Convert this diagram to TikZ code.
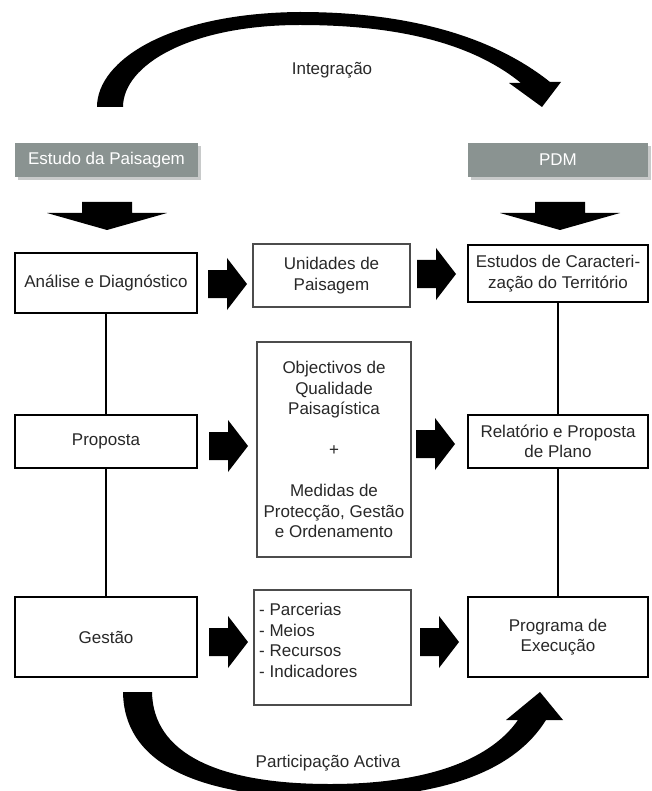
\documentclass[tikz,border=0pt]{standalone}
\usepackage{fontspec}
\setmainfont{Liberation Sans}
\definecolor{hdr}{RGB}{138,147,145}
\definecolor{txt}{RGB}{40,40,40}
\definecolor{shad}{RGB}{200,202,202}
\tikzset{
  base/.style={font=\fontsize{17}{20.5}\selectfont, text=txt, align=center, inner sep=0pt},
  outerbox/.style={base, draw=black, line width=2.4pt, fill=white},
  innerbox/.style={base, draw=black!70, line width=1.2pt, fill=white},
  hdrbox/.style={base, fill=hdr, text=white, minimum height=34pt},
  conn/.style={line width=2pt, black},
  rblock/.pic={\fill[black] (0,-14) -- (19,-14) -- (19,-26) -- (39,0) -- (19,26) -- (19,14) -- (0,14) -- cycle;},
  dblock/.pic={\fill[black] (-25,0) -- (25,0) -- (25,11) -- (60,11) -- (0,28) -- (-60,11) -- (-25,11) -- cycle;}
}
\begin{document}
\begin{tikzpicture}[x=1pt,y=-1pt]
\useasboundingbox[fill=white] (0,0) rectangle (651,791);

% top arc "Integracao"
\fill[black] (97,107) .. controls (97,60) and (170,13) .. (300,12)
  .. controls (420,12) and (500,42) .. (550,82)
  -- (561,82) -- (542,107) -- (509,83) -- (521,83)
  .. controls (478,48) and (410,25) .. (300,25)
  .. controls (190,25) and (123,65) .. (123,107) -- cycle;
\node[base] (integ) at (332,70) {Integração};

% headers
\fill[shad] (18,146) rectangle (201,180);
\fill[shad] (471,146) rectangle (651,180);
\node[hdrbox, minimum width=183pt] (hl) at (106.5,160) {Estudo da Paisagem};
\node[hdrbox, minimum width=180pt] (hr) at (558,160) {PDM};

% down block arrows
\pic at (107,202) {dblock};
\pic at (560,202) {dblock};

% row 1
\node[outerbox, minimum width=182pt, minimum height=60pt] (ana) at (106,283) {Análise e Diagnóstico};
\node[innerbox, minimum width=157pt, minimum height=63pt] (uni) at (331.5,275.5) {Unidades de\\Paisagem};
\node[outerbox, minimum width=180pt, minimum height=57pt] (est) at (558,273.5) {Estudos de Caracteri-\\zação do Território};

% row 2
\node[outerbox, minimum width=182pt, minimum height=53pt] (pro) at (106,441.5) {Proposta};
\node[innerbox, minimum width=154pt, minimum height=215pt] (obj) at (334,449.5)
  {Objectivos de\\Qualidade\\Paisagística\\[20.5pt]+\\[20.5pt]Medidas de\\Protecção, Gestão\\e Ordenamento};
\node[outerbox, minimum width=180pt, minimum height=53pt] (rel) at (558,441.5) {Relatório e Proposta\\de Plano};

% row 3
\node[outerbox, minimum width=182pt, minimum height=80pt] (ges) at (106,637) {Gestão};
\node[innerbox, minimum width=157pt, minimum height=115pt] (lst) at (332.5,647.5) {};
\node[base, align=left, anchor=north west] (lsttxt) at (259,603)
  {- Parcerias\\- Meios\\- Recursos\\- Indicadores};
\node[outerbox, minimum width=180pt, minimum height=80pt] (prg) at (558,637) {Programa de\\Execução};

% vertical connectors
\draw[conn] (ana.south) -- (pro.north);
\draw[conn] (pro.south) -- (ges.north);
\draw[conn] (est.south) -- (rel.north);
\draw[conn] (rel.south) -- (prg.north);

% horizontal block arrows
\pic at (208,284) {rblock};
\pic at (417,274) {rblock};
\pic at (209,446) {rblock};
\pic at (416,444) {rblock};
\pic at (209,642) {rblock};
\pic at (420,642) {rblock};

% bottom arc "Participacao Activa"
\fill[black] (123,692) .. controls (124,765) and (200,798) .. (330,798)
  .. controls (445,798) and (515,770) .. (546,720)
  -- (563,720) -- (540,692) -- (506,720) -- (518,720)
  .. controls (488,763) and (420,784) .. (330,784)
  .. controls (215,784) and (153,752) .. (152,692) -- cycle;
\node[base] (part) at (328,763) {Participação Activa};
\end{tikzpicture}
\end{document}
